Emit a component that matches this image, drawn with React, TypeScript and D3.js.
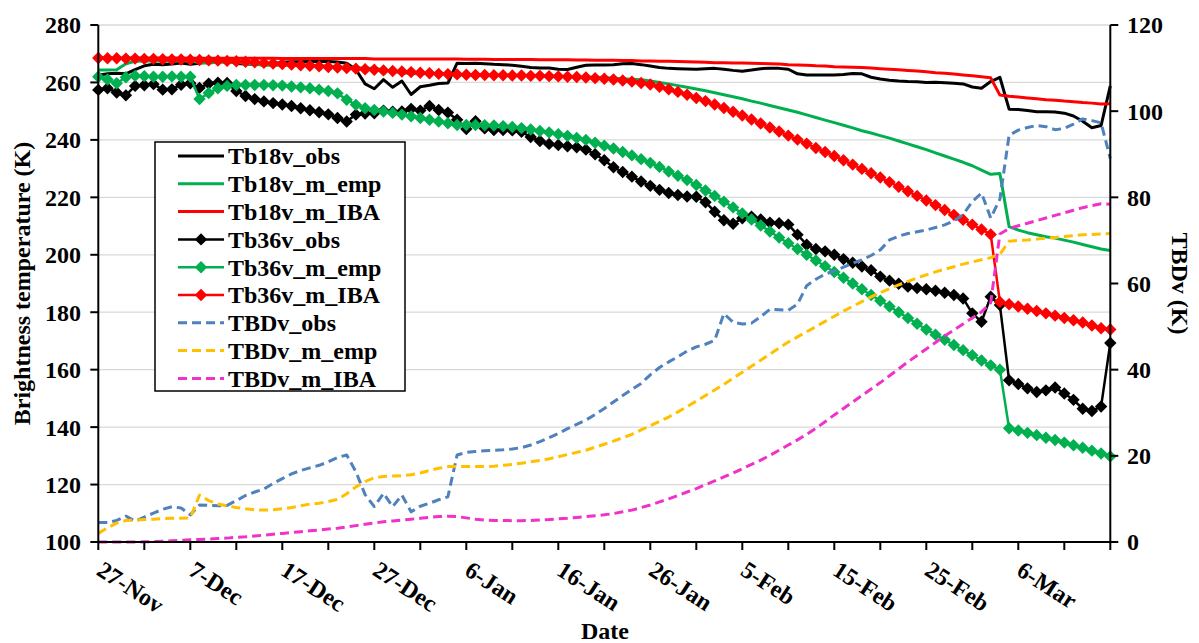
import React from 'react';
import * as d3 from 'd3';

const START = new Date(2019, 10, 27);
const tickLabels = ['27-Nov', '7-Dec', '17-Dec', '27-Dec', '6-Jan', '16-Jan', '26-Jan', '5-Feb', '15-Feb', '25-Feb', '6-Mar'];
const leftTicks = [100, 120, 140, 160, 180, 200, 220, 240, 260, 280];
const rightTicks = [0, 20, 40, 60, 80, 100, 120];

const tb18Obs = [
  262.5, 263.0, 263.2, 263.0, 264.5, 265.8, 266.3, 266.2, 266.4, 266.8,
  266.3, 266.7, 267.4, 267.6, 267.6, 266.6, 266.4, 266.3, 266.3, 266.5,
  267.0, 267.2, 267.2, 267.3, 267.3, 267.3, 267.1, 266.7, 264.5, 259.5,
  257.8, 261.0, 258.3, 260.5, 255.8, 258.5, 259.0, 259.6, 259.8, 266.7,
  266.6, 266.7, 266.5, 266.3, 266.2, 266.0, 265.6, 265.2, 265.0, 265.0,
  264.6, 264.5, 265.3, 266.0, 266.1, 266.1, 266.2, 266.5, 266.6, 266.2,
  265.7, 265.2, 264.9, 264.8, 264.7, 264.6, 264.8, 264.9, 264.6, 264.2,
  263.9, 264.3, 264.8, 264.9, 264.9, 264.6, 263.0, 262.6, 262.6, 262.6,
  262.6, 262.8, 263.1, 263.0, 261.8, 261.2, 260.8, 260.5, 260.3, 260.2,
  260.0, 260.1, 259.9, 259.7, 259.5, 258.4, 258.0, 260.3, 261.8, 250.7,
  250.6, 250.2, 249.8, 249.8, 249.7, 249.3, 248.3, 246.5, 244.2, 245.0, 258.8,
];

const tb18Emp = [
  264.3, 264.3, 264.4, 266.5, 267.4, 267.5, 267.5, 267.4, 267.5, 267.5,
  267.6, 266.8, 266.8, 267.0, 267.1, 267.0, 266.7, 266.3, 266.0, 266.0,
  266.0, 266.0, 266.1, 266.1, 265.8, 265.6, 265.5, 265.2, 265.1, 264.9,
  264.9, 264.4, 263.9, 263.4, 263.1, 263.0, 263.1, 263.1, 263.0, 262.7,
  262.7, 262.7, 262.6, 262.6, 262.6, 262.5, 262.4, 262.4, 262.3, 262.3,
  262.2, 262.1, 262.0, 261.9, 261.8, 261.7, 261.5, 261.3, 261.1, 260.9,
  260.5, 260.0, 259.5, 258.9, 258.3, 257.7, 257.1, 256.4, 255.7, 255.0,
  254.3, 253.5, 252.8, 252.0, 251.2, 250.4, 249.6, 248.7, 247.8, 246.9,
  246.0, 245.1, 244.2, 243.2, 242.4, 241.5, 240.6, 239.6, 238.6, 237.6,
  236.6, 235.5, 234.4, 233.3, 232.2, 231.0, 229.5, 228.0, 228.3, 209.8,
  208.6, 207.7, 207.0, 206.3, 205.8, 205.1, 204.4, 203.6, 202.8, 202.0, 201.5,
];

const tb18Iba = [
  268.5, 268.5, 268.5, 268.5, 268.5, 268.5, 268.5, 268.5, 268.5, 268.5,
  268.4, 268.4, 268.4, 268.4, 268.4, 268.4, 268.4, 268.4, 268.4, 268.4,
  268.3, 268.3, 268.3, 268.3, 268.3, 268.3, 268.3, 268.3, 268.3, 268.3,
  268.2, 268.2, 268.2, 268.2, 268.2, 268.2, 268.2, 268.2, 268.2, 268.2,
  268.1, 268.1, 268.1, 268.0, 268.0, 268.0, 268.0, 268.0, 267.9, 267.9,
  267.9, 267.9, 267.8, 267.8, 267.7, 267.7, 267.7, 267.6, 267.6, 267.5,
  267.5, 267.4, 267.4, 267.3, 267.2, 267.1, 267.0, 266.9, 266.9, 266.8,
  266.8, 266.7, 266.6, 266.5, 266.4, 266.2, 266.1, 266.0, 265.8, 265.7,
  265.5, 265.4, 265.3, 265.2, 265.0, 264.8, 264.6, 264.4, 264.2, 264.0,
  263.7, 263.4, 263.2, 262.9, 262.6, 262.3, 262.0, 261.6, 255.6, 255.2,
  254.9, 254.6, 254.3, 254.0, 253.8, 253.5, 253.3, 253.0, 252.8, 252.5, 252.6,
];

const tb36Obs = [
  257.4, 258.0, 256.5, 255.5, 258.8, 259.0, 259.4, 257.5, 257.6, 259.2,
  259.7, 258.1, 259.6, 259.9, 259.8, 257.0, 255.3, 254.2, 253.4, 252.8,
  252.3, 251.8, 251.0, 250.3, 249.6, 248.9, 247.6, 246.4, 248.8, 249.2,
  249.3, 250.2, 249.8, 249.9, 250.8, 250.2, 251.8, 250.4, 249.5, 247.0,
  243.8, 246.5, 244.0, 243.4, 243.4, 243.3, 242.8, 241.0, 239.6, 238.6,
  238.2, 237.8, 237.4, 236.6, 235.0, 232.9, 230.5, 228.8, 227.2, 225.5,
  224.0, 222.6, 221.5, 220.8, 220.3, 220.2, 218.3, 215.0, 212.0, 210.8,
  212.7, 213.3, 212.3, 211.2, 211.0, 210.5, 207.0, 203.5, 202.0, 201.2,
  200.0, 198.5, 197.2, 195.9, 194.6, 192.4, 191.0, 189.9, 188.9, 188.4,
  188.0, 187.5, 186.8, 186.0, 184.8, 179.6, 176.7, 185.4, 182.5, 156.3,
  155.0, 153.5, 152.2, 152.8, 153.8, 151.7, 149.5, 146.4, 145.6, 147.2, 169.3,
];

const tb36Emp = [
  262.0, 261.0, 259.7, 261.8, 262.3, 262.2, 262.0, 262.0, 262.1, 262.0,
  262.0, 254.2, 256.3, 258.0, 258.8, 259.1, 259.1, 259.1, 259.1, 259.0,
  258.9, 258.6, 258.3, 258.0, 257.5, 257.0, 256.2, 254.0, 252.2, 251.0,
  250.4, 249.9, 249.4, 248.8, 248.2, 247.6, 247.0, 246.4, 245.8, 245.2,
  245.2, 245.2, 245.1, 245.0, 244.8, 244.5, 244.1, 243.6, 243.1, 242.6,
  242.0, 241.4, 240.7, 240.0, 239.0, 238.0, 237.0, 235.8, 234.6, 233.3,
  232.0, 230.6, 229.0, 227.5, 226.0, 224.3, 222.4, 220.5, 218.5, 216.5,
  214.4, 212.3, 210.2, 208.1, 206.0, 204.0, 202.0, 200.0, 198.0, 196.0,
  194.0, 192.0, 190.0, 188.0, 186.0, 184.0, 182.0, 180.0, 178.0, 176.0,
  174.0, 172.2, 170.4, 168.6, 166.8, 165.0, 163.2, 161.5, 160.0, 139.6,
  138.8, 138.0, 137.2, 136.3, 135.5, 134.6, 133.7, 132.8, 131.8, 130.8, 129.8,
];

const tb36Iba = [
  268.5, 268.4, 268.4, 268.3, 268.3, 268.2, 268.2, 268.1, 268.0, 268.0,
  267.9, 267.8, 267.7, 267.6, 267.5, 267.4, 267.2, 267.0, 266.8, 266.6,
  266.4, 266.2, 266.0, 265.8, 265.6, 265.4, 265.2, 265.0, 264.8, 264.6,
  264.4, 264.2, 264.0, 263.8, 263.6, 263.4, 263.2, 263.0, 262.9, 262.8,
  262.7, 262.6, 262.6, 262.5, 262.5, 262.4, 262.4, 262.3, 262.3, 262.2,
  262.1, 262.0, 261.9, 261.7, 261.5, 261.3, 261.0, 260.7, 260.3, 259.8,
  259.3, 258.5, 257.6, 256.7, 255.7, 254.6, 253.5, 252.3, 251.1, 249.8,
  248.5, 247.1, 245.7, 244.3, 242.9, 241.5, 240.1, 238.7, 237.2, 235.8,
  234.4, 232.9, 231.4, 229.9, 228.4, 226.9, 225.3, 223.7, 222.1, 220.5,
  218.9, 217.3, 215.6, 213.9, 212.2, 210.5, 208.8, 207.1, 183.6, 182.8,
  182.0, 181.2, 180.4, 179.6, 178.8, 178.0, 177.2, 176.4, 175.4, 174.4, 174.0,
];

const tbdObs = [
  4.5, 4.5, 5.0, 6.0, 4.8, 5.8, 6.7, 7.6, 8.2, 7.9,
  6.3, 8.6, 8.5, 8.4, 8.5, 9.6, 10.8, 11.6, 12.3, 13.6,
  14.7, 15.8, 16.6, 17.2, 17.8, 18.6, 19.6, 20.2, 16.3, 11.0,
  8.2, 11.3, 8.2, 10.9, 7.0, 8.3, 9.0, 9.8, 10.5, 20.2,
  20.8, 21.0, 21.2, 21.3, 21.4, 21.6, 21.9, 22.5, 23.3, 24.2,
  25.2, 26.3, 27.3, 28.3, 29.6, 31.0, 32.5, 34.0, 35.4, 36.8,
  38.8, 40.5, 41.8, 43.0, 44.3, 45.3, 45.9, 46.8, 53.0, 51.0,
  50.6, 50.8, 52.3, 54.0, 53.9, 53.8, 55.2, 59.5, 61.0, 62.2,
  62.9, 63.8, 64.7, 65.5, 66.5, 67.8, 70.1, 71.0, 71.6, 72.0,
  72.4, 73.0, 73.6, 74.5, 76.0, 79.0, 81.0, 75.2, 79.6, 94.4,
  95.6, 96.2, 96.7, 96.4, 95.7, 96.0, 97.0, 98.2, 97.8, 97.3, 89.0,
];

const tbdEmp = [
  2.0, 3.3, 4.4, 5.0, 5.1, 5.2, 5.3, 5.4, 5.5, 5.5,
  5.6, 10.9, 9.6, 8.8, 8.4, 8.0, 7.7, 7.5, 7.4, 7.5,
  7.7, 8.0, 8.4, 8.8, 9.0, 9.4, 9.9, 11.2, 12.8, 14.0,
  14.9, 15.2, 15.3, 15.4, 15.6, 16.0, 16.6, 17.1, 17.5, 17.5,
  17.5, 17.5, 17.5, 17.6, 17.8, 18.0, 18.3, 18.6, 18.9, 19.3,
  19.8, 20.3, 20.8, 21.3, 22.0, 22.7, 23.4, 24.2, 25.0, 26.0,
  27.0, 28.0, 29.0, 30.2, 31.4, 32.7, 34.0, 35.3, 36.6, 38.0,
  39.4, 40.8, 42.2, 43.6, 45.0, 46.4, 47.6, 48.8, 50.0, 51.2,
  52.4, 53.6, 54.7, 55.8, 56.9, 57.9, 58.8, 59.7, 60.5, 61.3,
  62.0, 62.7, 63.3, 63.9, 64.5, 65.0, 65.5, 66.0, 66.8, 69.8,
  70.0, 70.1, 70.3, 70.5, 70.7, 70.9, 71.1, 71.3, 71.4, 71.5, 71.6,
];

const tbdIba = [
  0.0, 0.0, 0.0, 0.0, 0.0, 0.05, 0.1, 0.2, 0.3, 0.4,
  0.5, 0.6, 0.7, 0.8, 0.9, 1.1, 1.2, 1.4, 1.6, 1.8,
  2.0, 2.2, 2.4, 2.6, 2.8, 3.0, 3.2, 3.5, 3.8, 4.1,
  4.4, 4.7, 4.9, 5.1, 5.3, 5.5, 5.7, 5.9, 6.0, 5.9,
  5.6, 5.3, 5.1, 5.0, 5.0, 4.95, 4.95, 5.0, 5.1, 5.2,
  5.4, 5.5, 5.7, 5.9, 6.1, 6.3, 6.6, 7.0, 7.4, 8.0,
  8.6, 9.3, 10.0, 10.8, 11.6, 12.4, 13.3, 14.2, 15.1, 16.0,
  17.0, 18.0, 19.0, 20.1, 21.3, 22.5, 23.7, 25.0, 26.4, 27.9,
  29.5, 31.0, 32.5, 34.0, 35.5, 37.0, 38.6, 40.2, 41.8, 43.3,
  44.8, 46.3, 47.8, 49.2, 50.6, 52.0, 53.4, 55.5, 71.5, 72.8,
  73.4, 74.0, 74.6, 75.2, 75.8, 76.4, 77.0, 77.6, 78.1, 78.5, 78.4,
];

const FONT = "'Liberation Serif', 'Times New Roman', serif";

type Series = {
  name: string;
  values: number[];
  color: string;
  axis: 'L' | 'R';
  marker?: boolean;
  dash?: string;
  width: number;
};

const series: Series[] = [
  { name: 'Tb18v_obs', values: tb18Obs, color: '#000000', axis: 'L', width: 3 },
  { name: 'Tb18v_m_emp', values: tb18Emp, color: '#00B050', axis: 'L', width: 3 },
  { name: 'Tb18v_m_IBA', values: tb18Iba, color: '#FF0000', axis: 'L', width: 3 },
  { name: 'Tb36v_obs', values: tb36Obs, color: '#000000', axis: 'L', width: 2.5, marker: true },
  { name: 'Tb36v_m_emp', values: tb36Emp, color: '#00B050', axis: 'L', width: 2.5, marker: true },
  { name: 'Tb36v_m_IBA', values: tb36Iba, color: '#FF0000', axis: 'L', width: 2.5, marker: true },
  { name: 'TBDv_obs', values: tbdObs, color: '#4F81BD', axis: 'R', width: 3, dash: '9,5' },
  { name: 'TBDv_m_emp', values: tbdEmp, color: '#FFC000', axis: 'R', width: 3, dash: '9,5' },
  { name: 'TBDv_m_IBA', values: tbdIba, color: '#F032C8', axis: 'R', width: 3, dash: '9,5' },
];

const DIAMOND = 'M0,-6.2L6.2,0L0,6.2L-6.2,0Z';

export default function App() {
  const W = 1199;
  const H = 643;
  const left = 98.3;
  const right = 1110.3;
  const top = 25;
  const bottom = 542;
  const nDays = tb18Obs.length - 1;

  const x = d3.scaleTime().domain([START, d3.timeDay.offset(START, nDays)]).range([left, right]);
  const yL = d3.scaleLinear().domain([100, 280]).range([bottom, top]);
  const yR = d3.scaleLinear().domain([0, 120]).range([bottom, top]);
  const dateAt = (i: number) => d3.timeDay.offset(START, i);

  const minorTicks = d3.range(0, nDays + 1, 5).map(dateAt);
  const majorTicks = tickLabels.map((lab, i) => ({ lab, date: dateAt(i * 10) }));

  const makeLine = (s: Series) => {
    const y = s.axis === 'L' ? yL : yR;
    return d3
      .line<number>()
      .x((_, i) => x(dateAt(i)))
      .y((v) => y(v))(s.values) as string;
  };

  const legendX = 155;
  const legendY = 142;
  const legendW = 250;
  const legendH = 249;
  const rowH = 27.8;

  return (
    <svg width={W} height={H} style={{ position: 'absolute', left: 0, top: 0, background: '#fff' }} fontFamily={FONT}>
      <rect x={0} y={0} width={W} height={H} fill="#fff" />
      {leftTicks.filter((t) => t > 100).map((t) => (
        <line key={'g' + t} x1={left} x2={right} y1={yL(t)} y2={yL(t)} stroke="#D9D9D9" strokeWidth={1.3} />
      ))}

      {series.map((s) => (
        <g key={s.name}>
          <path
            d={makeLine(s)}
            fill="none"
            stroke={s.color}
            strokeWidth={s.width}
            strokeLinejoin="round"
            strokeDasharray={s.dash}
          />
          {s.marker &&
            s.values.map((v, i) => (
              <path key={i} d={DIAMOND} transform={`translate(${x(dateAt(i))},${yL(v)})`} fill={s.color} />
            ))}
        </g>
      ))}

      <line x1={left} x2={left} y1={top} y2={bottom} stroke="#000" strokeWidth={2} />
      <line x1={right} x2={right} y1={top} y2={bottom} stroke="#000" strokeWidth={2} />
      <line x1={left - 1} x2={right + 1} y1={bottom} y2={bottom} stroke="#000" strokeWidth={2} />
      {leftTicks.map((t) => (
        <g key={'lt' + t}>
          <line x1={left - 8} x2={left} y1={yL(t)} y2={yL(t)} stroke="#000" strokeWidth={2} />
          <text x={81} y={yL(t)} dy="0.35em" textAnchor="end" fontSize={24} fontWeight="bold">
            {t}
          </text>
        </g>
      ))}
      {rightTicks.map((t) => (
        <g key={'rt' + t}>
          <line x1={right} x2={right + 8} y1={yR(t)} y2={yR(t)} stroke="#000" strokeWidth={2} />
          <text x={1127} y={yR(t)} dy="0.35em" textAnchor="start" fontSize={24} fontWeight="bold">
            {t}
          </text>
        </g>
      ))}
      {minorTicks.map((d, i) => (
        <line key={'xt' + i} x1={x(d)} x2={x(d)} y1={bottom} y2={bottom + 8} stroke="#000" strokeWidth={2} />
      ))}
      {majorTicks.map(({ lab, date }) => (
        <text
          key={lab}
          transform={`translate(${x(date) - 3},${574}) rotate(33)`}
          textAnchor="start"
          fontSize={24}
          fontWeight="bold"
        >
          {lab}
        </text>
      ))}

      <text transform={`translate(30,${(top + bottom) / 2}) rotate(-90)`} textAnchor="middle" fontSize={24} fontWeight="bold">
        Brightness temperature (K)
      </text>
      <text transform={`translate(1172,${(top + bottom) / 2}) rotate(90)`} textAnchor="middle" fontSize={24} fontWeight="bold">
        TBDv (K)
      </text>
      <text x={605} y={639} textAnchor="middle" fontSize={24} fontWeight="bold">
        Date
      </text>

      <rect x={legendX} y={legendY} width={legendW} height={legendH} fill="#fff" stroke="#000" strokeWidth={1.5} />
      {series.map((s, i) => {
        const cy = legendY + 14 + i * rowH;
        return (
          <g key={'lg' + s.name}>
            <line x1={178} x2={224} y1={cy} y2={cy} stroke={s.color} strokeWidth={s.width} strokeDasharray={s.dash} />
            {s.marker && <path d={DIAMOND} transform={`translate(201,${cy})`} fill={s.color} />}
            <text x={228} y={cy} dy="0.35em" fontSize={24} fontWeight="bold">
              {s.name}
            </text>
          </g>
        );
      })}
    </svg>
  );
}
